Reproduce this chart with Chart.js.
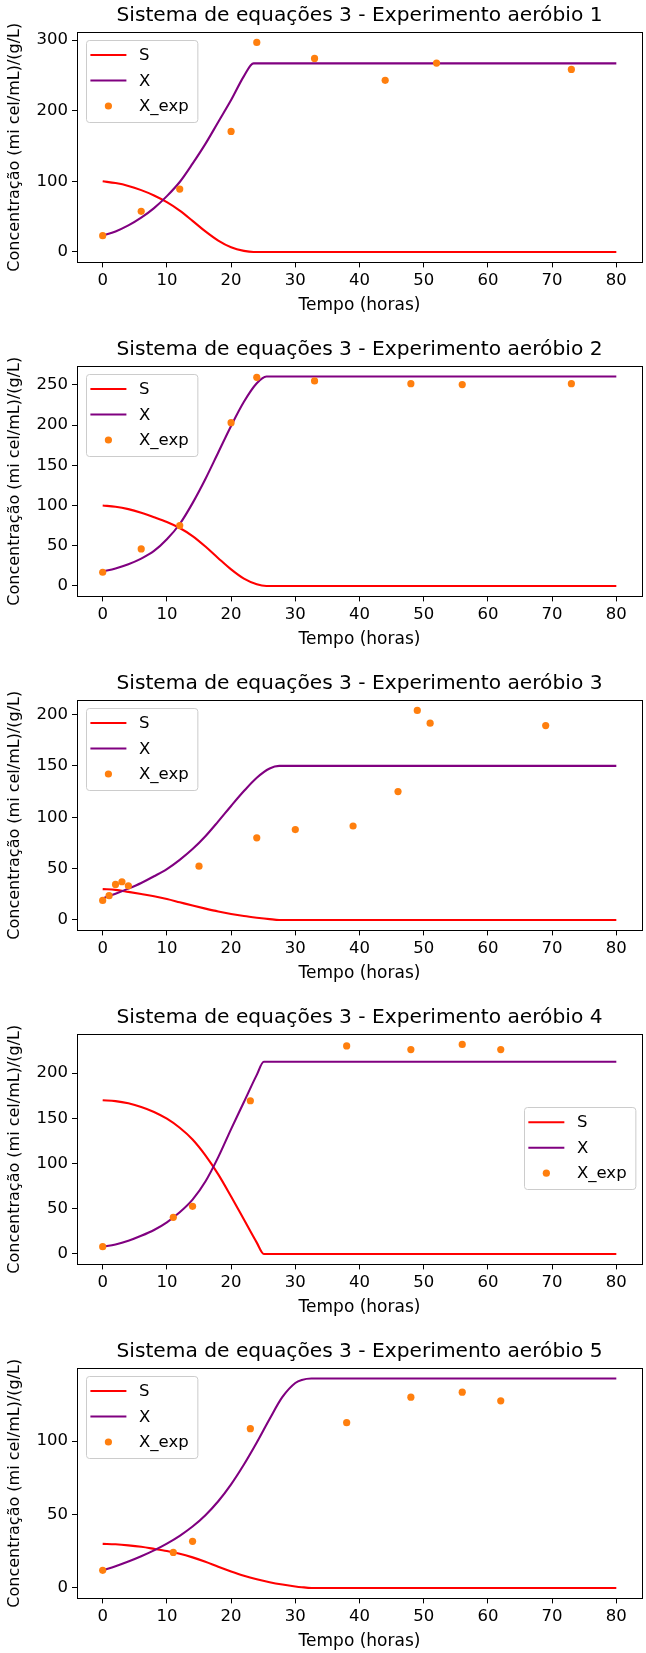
<!DOCTYPE html>
<html>
<head>
<meta charset="utf-8">
<script src="https://cdn.jsdelivr.net/npm/chart.js@4.4.1/dist/chart.umd.min.js"></script>
<style>
  html, body { margin:0; padding:0; background:#fff; }
  body { width:646px; height:1653px; position:relative; overflow:hidden; }
  .plot { position:absolute; left:0; width:646px; height:334px; }
</style>
</head>
<body>
<div id="wrap"></div>
<script>
// ---- data (t in hours) ----
const titles = [
  'Sistema de equações 3 - Experimento aeróbio 1',
  'Sistema de equações 3 - Experimento aeróbio 2',
  'Sistema de equações 3 - Experimento aeróbio 3',
  'Sistema de equações 3 - Experimento aeróbio 4',
  'Sistema de equações 3 - Experimento aeróbio 5'
];
const xTicks = [0, 10, 20, 30, 40, 50, 60, 70, 80];

// experiment 1
const t1 = [0, 2, 4, 6, 8, 10, 12, 14, 16, 18, 20, 22, 23.5, 80];
const S1 = [100, 97.5, 93.5, 87.5, 80, 70.5, 58.5, 44, 29, 16, 6.5, 1.5, 0, 0];
const X1 = [23, 29, 37.5, 48.5, 62, 79, 99, 125, 153, 184, 215, 249, 267, 267];
const tExp1 = [0, 6, 12, 20, 24, 33, 44, 52, 73];
const Xexp1 = [23, 57.5, 89, 170.7, 296.6, 274, 243, 267.4, 258.5];
const yTicks1 = [0, 100, 200, 300];

// experiment 2
const t2 = [0, 2, 4, 6, 8, 10, 12, 14, 16, 18, 20, 22, 24, 25.5, 80];
const S2 = [100, 98.5, 95.5, 91, 85.5, 79.5, 72, 62, 49, 34.5, 20.5, 9, 2, 0, 0];
const X2 = [18, 21.8, 27, 34, 43.5, 58, 77, 103, 133, 166, 199, 229, 252, 260.5, 260.5];
const tExp2 = [0, 6, 12, 20, 24, 33, 48, 56, 73];
const Xexp2 = [17, 46, 75, 203, 259.5, 255, 251.6, 250.4, 251.6];
const yTicks2 = [0, 50, 100, 150, 200, 250];

// experiment 3
const t3 = [0, 2, 4, 6, 8, 10, 12, 14, 16, 18, 20, 22, 24, 26, 27.5, 80];
const S3 = [30, 29.3, 27.3, 25.2, 23, 20.4, 17.2, 14, 11, 8.2, 5.8, 3.8, 2.2, 0.8, 0, 0];
const X3 = [21, 25.5, 30.5, 36, 42.5, 49.5, 58.5, 69, 81.5, 96, 111, 125.5, 138.5, 147.5, 150, 150];
const tExp3 = [0, 1, 2, 3, 4, 15, 24, 30, 39, 46, 49, 51, 69];
const Xexp3 = [19, 23.6, 34.6, 37.2, 33.3, 52.4, 80, 88, 91.5, 125, 204, 191.6, 189.3];
const yTicks3 = [0, 50, 100, 150, 200];

// experiment 4
const t4 = [0, 2, 4, 6, 8, 10, 12, 14, 16, 18, 20, 22, 24, 25.1, 80];
const S4 = [170, 169, 166.5, 162.5, 157, 149.5, 139.5, 126.5, 109, 88, 63.5, 38, 12.5, 0, 0];
const X4 = [8, 10.5, 14.5, 20, 26.5, 35, 46, 60, 80, 107, 138, 168, 198, 212.5, 212.5];
const tExp4 = [0, 11, 14, 23, 38, 48, 56, 62];
const Xexp4 = [8, 40.5, 52.6, 169.4, 230, 226, 231.6, 226];
const yTicks4 = [0, 50, 100, 150, 200];

// experiment 5
const t5 = [0, 2, 4, 6, 8, 10, 12, 14, 16, 18, 20, 22, 24, 26, 28, 30, 31, 32.5, 80];
const S5 = [30, 29.7, 29, 28, 26.6, 25.1, 23.3, 20.8, 17.8, 14.4, 11.2, 8.3, 5.9, 3.9, 2.3, 1, 0.5, 0, 0];
const X5 = [12, 14.8, 18, 21.6, 25.6, 30.2, 35.5, 41.8, 49.5, 59, 70.5, 84, 99, 115, 130, 139.5, 141.6, 142.6, 142.6];
const tExp5 = [0, 11, 14, 23, 38, 48, 56, 62];
const Xexp5 = [12, 24.2, 31.7, 108.4, 112.5, 129.9, 133.3, 127.4];
const yTicks5 = [0, 50, 100];

const legendPos = ['ul', 'ul', 'ul', 'cr', 'ul'];

// ---- drawing ----
const FONT = 'DejaVu Sans';
const FS = 16.5;

const plots = [
  {t: t1, S: S1, X: X1, te: tExp1, xe: Xexp1, yt: yTicks1},
  {t: t2, S: S2, X: X2, te: tExp2, xe: Xexp2, yt: yTicks2},
  {t: t3, S: S3, X: X3, te: tExp3, xe: Xexp3, yt: yTicks3},
  {t: t4, S: S4, X: X4, te: tExp4, xe: Xexp4, yt: yTicks4},
  {t: t5, S: S5, X: X5, te: tExp5, xe: Xexp5, yt: yTicks5}
];

const pts = (xs, ys) => xs.map((x, i) => ({x, y: ys[i]}));

// axes box, title and axis labels (matplotlib-like placement)
const frame = {
  id: 'frame',
  afterDraw(chart, args, o){
    const {ctx, chartArea: a} = chart;
    ctx.save();
    ctx.strokeStyle = '#000'; ctx.lineWidth = 1;
    ctx.strokeRect(Math.round(a.left) + 0.5, Math.round(a.top) + 0.5,
                   Math.round(a.right) - Math.round(a.left), Math.round(a.bottom) - Math.round(a.top));
    ctx.fillStyle = '#000';
    ctx.textAlign = 'center'; ctx.textBaseline = 'middle';
    const cx = (a.left + a.right) / 2;
    ctx.font = '20.2px "' + FONT + '"';
    ctx.fillText(o.title, cx, 15.5);
    ctx.font = '17px "' + FONT + '"';
    ctx.fillText('Tempo (horas)', cx, 305.5);
    ctx.font = '16px "' + FONT + '"';
    ctx.translate(14.5, (a.top + a.bottom) / 2);
    ctx.rotate(-Math.PI / 2);
    ctx.fillText('Concentração (mi cel/mL)/(g/L)', 0, 0);
    ctx.restore();
  }
};

// legend box drawn inside the axes
const legendBox = {
  id: 'legendBox',
  afterDatasetsDraw(chart, args, o){
    const {ctx, chartArea: a} = chart;
    const ds = chart.data.datasets;
    ctx.save();
    ctx.font = FS + 'px "' + FONT + '"';
    const tw = Math.max(...ds.map(d => ctx.measureText(d.label).width));
    const w = 4.7 + 36 + 12.6 + tw + 8.4, h = 82;
    let x0, y0;
    if (o.pos === 'ul'){ x0 = a.left + 8.7; y0 = a.top + 8; }
    else { x0 = a.right - 7 - w; y0 = (a.top + a.bottom) / 2 - h / 2 - 1; }
    ctx.fillStyle = 'rgba(255,255,255,0.8)';
    ctx.strokeStyle = '#cccccc'; ctx.lineWidth = 1;
    ctx.beginPath(); ctx.roundRect(Math.round(x0) + 0.5, Math.round(y0) + 0.5, w, h, 3);
    ctx.fill(); ctx.stroke();
    ds.forEach((d, i) => {
      const cy = y0 + 15 + i * 25.5;
      const hx = x0 + 4.7;
      if (d.showLine){
        ctx.strokeStyle = d.borderColor; ctx.lineWidth = d.borderWidth;
        ctx.beginPath(); ctx.moveTo(hx, cy); ctx.lineTo(hx + 36, cy); ctx.stroke();
      } else {
        ctx.fillStyle = d.backgroundColor;
        ctx.beginPath(); ctx.arc(hx + 18, cy, d.pointRadius, 0, Math.PI * 2); ctx.fill();
      }
      ctx.fillStyle = '#000'; ctx.textAlign = 'left'; ctx.textBaseline = 'middle';
      ctx.fillText(d.label, hx + 36 + 12.6, cy + 1);
    });
    ctx.restore();
  }
};

const wrap = document.getElementById('wrap');
plots.forEach((p, i) => {
  const div = document.createElement('div');
  div.className = 'plot';
  div.style.top = (i * 334) + 'px';
  const cv = document.createElement('canvas');
  div.appendChild(cv);
  wrap.appendChild(div);

  const all = p.S.concat(p.X, p.xe);
  const lo = Math.min(...all), hi = Math.max(...all);
  const m = 0.05 * (hi - lo);

  new Chart(cv, {
    type: 'scatter',
    data: { datasets: [
      { label: 'S', data: pts(p.t, p.S), showLine: true, borderColor: '#ff0000', borderWidth: 2.1,
        pointRadius: 0, cubicInterpolationMode: 'monotone', order: 3 },
      { label: 'X', data: pts(p.t, p.X), showLine: true, borderColor: '#800080', borderWidth: 2.1,
        pointRadius: 0, cubicInterpolationMode: 'monotone', order: 2 },
      { label: 'X_exp', data: pts(p.te, p.xe), showLine: false, backgroundColor: '#ff7f0e',
        borderWidth: 0, pointRadius: 3.6, order: 1 }
    ]},
    options: {
      responsive: true, maintainAspectRatio: false, animation: false, devicePixelRatio: 1,
      events: [],
      layout: { padding: { top: 32, right: 1, left: 0, bottom: 0 } },
      plugins: {
        legend: { display: false }, tooltip: { enabled: false },
        frame: { title: titles[i] },
        legendBox: { pos: legendPos[i] }
      },
      scales: {
        x: {
          type: 'linear', position: 'bottom', min: -4, max: 84,
          afterBuildTicks: s => { s.ticks = xTicks.map(v => ({value: v})); },
          afterFit: s => { s.height = 71.6; },
          grid: { display: true, drawOnChartArea: false, drawTicks: true, tickLength: 5, color: '#000' },
          border: { display: false },
          ticks: { font: { family: FONT, size: FS }, color: '#000', padding: 3, maxRotation: 0 }
        },
        y: {
          type: 'linear', position: 'left', min: lo - m, max: hi + m,
          afterBuildTicks: s => { s.ticks = p.yt.map(v => ({value: v})); },
          afterFit: s => { s.width = 77; },
          grid: { display: true, drawOnChartArea: false, drawTicks: true, tickLength: 5, color: '#000' },
          border: { display: false },
          ticks: { font: { family: FONT, size: FS }, color: '#000', padding: 4 }
        }
      }
    },
    plugins: [frame, legendBox]
  });
});
</script>
</body>
</html>
